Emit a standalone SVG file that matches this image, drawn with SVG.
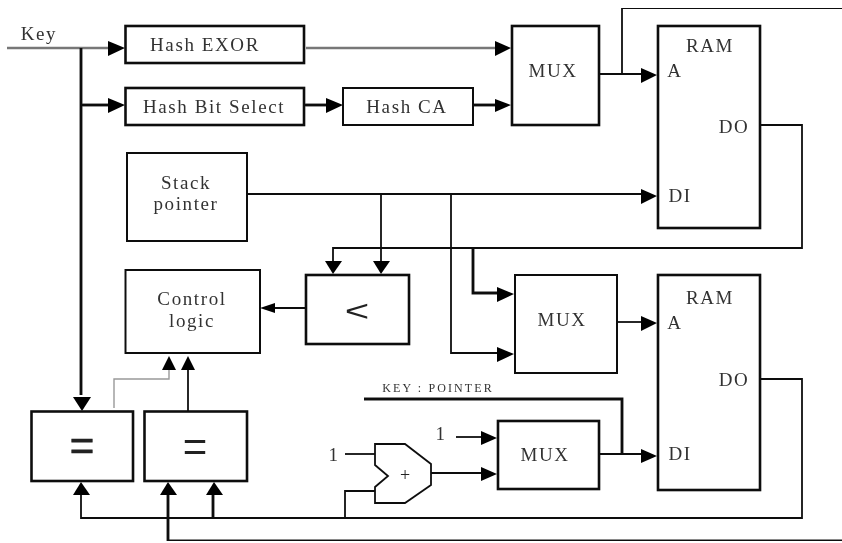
<svg xmlns="http://www.w3.org/2000/svg" width="842" height="543" viewBox="0 0 842 543">
<defs>
<style>
.b{fill:#fff;stroke:#111;stroke-width:2}
.bt{fill:#fff;stroke:#111;stroke-width:2.6}
.t{font-family:"Liberation Serif",serif;font-size:19px;fill:#333;letter-spacing:1.6px;text-anchor:middle}
.c path{fill:none;stroke:#111;stroke-width:1.8}
.c .th{stroke-width:2.8}
.c .gy{stroke:#777;stroke-width:2.4}
.c .lg{stroke:#999;stroke-width:1.4}
.c polygon{fill:#000;stroke:none}
</style>
<filter id="soft" x="0" y="0" width="100%" height="100%"><feGaussianBlur stdDeviation="0.5"/></filter>
</defs>
<rect width="842" height="543" fill="#fff"/>
<g filter="url(#soft)">
<g id="connectors" class="c">
<path class="gy" d="M7 48H110"/>
<path class="th" d="M81 48V395"/>
<path class="th" d="M81 105H110"/>
<path class="gy" d="M306 48H497"/>
<path class="th" d="M304 105H328"/>
<path class="th" d="M473 105H497"/>
<path d="M599 74H643"/>
<path d="M622 74V8H842"/>
<path d="M247 194H643"/>
<path d="M381 194V262"/>
<path d="M451 194V353H498"/>
<path d="M760 125H802V248H333V262"/>
<path class="th" d="M473 248V293H498"/>
<path d="M617 322H643"/>
<path d="M306 308H272"/>
<path class="lg" d="M114 408V379H169V368"/>
<path d="M188 411V368"/>
<path d="M760 379H802V518H81V493"/>
<path class="th" d="M213 518V493"/>
<path class="th" d="M168 493V541H842"/>
<path class="th" d="M364 399H622V454"/>
<path d="M599 454H643"/>
<path d="M456 437H483"/>
<path d="M431 473H483"/>
<path d="M345 454H375"/>
<path d="M345 518V491H375"/>
<polygon points="125,48 108,41 108,56"/>
<polygon points="125,105 108,98 108,113"/>
<polygon points="343,105 326,98 326,113"/>
<polygon points="511,48 495,41 495,56"/>
<polygon points="511,105 495,99 495,112"/>
<polygon points="657,75 641,68 641,83"/>
<polygon points="657,196 641,189 641,204"/>
<polygon points="333,274 325,261 342,261"/>
<polygon points="381,274 373,261 390,261"/>
<polygon points="514,294 497,287 497,302"/>
<polygon points="514,354 497,347 497,362"/>
<polygon points="657,323 641,316 641,331"/>
<polygon points="260,308 275,303 275,313"/>
<polygon points="169,356 162,370 176,370"/>
<polygon points="188,356 181,370 195,370"/>
<polygon points="82,411 73,397 91,397"/>
<polygon points="81,482 73,495 90,495"/>
<polygon points="168,482 160,495 177,495"/>
<polygon points="214,482 206,495 223,495"/>
<polygon points="497,438 481,431 481,445"/>
<polygon points="497,474 481,467 481,481"/>
<polygon points="657,456 641,449 641,463"/>
</g>
<g id="hash-exor"><rect class="bt" x="125.500" y="26" width="178.500" height="37"/><text class="t" x="205" y="51">Hash EXOR</text></g>
<g id="hash-bit-select"><rect class="bt" x="125.500" y="88" width="178.500" height="37"/><text class="t" x="214" y="113">Hash Bit Select</text></g>
<g id="hash-ca"><rect class="b" x="343" y="88" width="130" height="37"/><text class="t" x="407" y="113">Hash CA</text></g>
<g id="mux-1"><rect class="bt" x="512" y="26" width="87" height="99"/><text class="t" x="553" y="77">MUX</text></g>
<g id="ram-1"><rect class="bt" x="658" y="26" width="102" height="202"/><text class="t" x="710" y="52">RAM</text><text class="t" x="675" y="77">A</text><text class="t" x="734" y="133">DO</text><text class="t" x="680" y="202">DI</text></g>
<g id="stack-pointer"><rect class="b" x="127" y="153" width="120" height="88"/><text class="t" x="186" y="189">Stack</text><text class="t" x="186" y="210">pointer</text></g>
<g id="control-logic"><rect class="b" x="125.500" y="270" width="134.500" height="83"/><text class="t" x="192" y="305">Control</text><text class="t" x="192" y="327">logic</text></g>
<g id="less-than"><rect class="bt" x="306" y="275" width="103" height="69"/><text transform="translate(357 321) scale(1 .7)" font-family="Liberation Sans,sans-serif" font-size="42" fill="#222" text-anchor="middle">&lt;</text></g>
<g id="mux-2"><rect class="b" x="515" y="275" width="102" height="98"/><text class="t" x="562" y="326">MUX</text></g>
<g id="ram-2"><rect class="bt" x="658" y="275" width="102" height="215"/><text class="t" x="710" y="304">RAM</text><text class="t" x="675" y="329">A</text><text class="t" x="734" y="386">DO</text><text class="t" x="680" y="460">DI</text></g>
<g id="mux-3"><rect class="bt" x="498" y="421" width="101" height="68"/><text class="t" x="545" y="461">MUX</text></g>
<g id="equal-1"><rect class="bt" x="31.500" y="411.500" width="101.500" height="69.500"/><text x="82" y="460" font-family="Liberation Sans,sans-serif" font-size="42" stroke="#222" stroke-width=".7" fill="#222" text-anchor="middle">=</text></g>
<g id="equal-2"><rect class="bt" x="144.500" y="411.500" width="102.500" height="69.500"/><text x="195" y="461" font-family="Liberation Sans,sans-serif" font-size="42" fill="#222" text-anchor="middle">=</text></g>
<g id="adder"><path d="M375 444H405L431 464V485L405 503H375V487L388 476L375 465Z" fill="#fff" stroke="#111" stroke-width="1.800"/><text x="405" y="481" font-family="Liberation Serif,serif" font-size="18" fill="#222" text-anchor="middle">+</text></g>
<text class="t" x="39" y="40">Key</text>
<text class="t" x="438" y="392" style="font-size:12px;letter-spacing:2.100px">KEY : POINTER</text>
<text class="t" x="334" y="461">1</text>
<text class="t" x="441" y="440">1</text>
</g>
</svg>
